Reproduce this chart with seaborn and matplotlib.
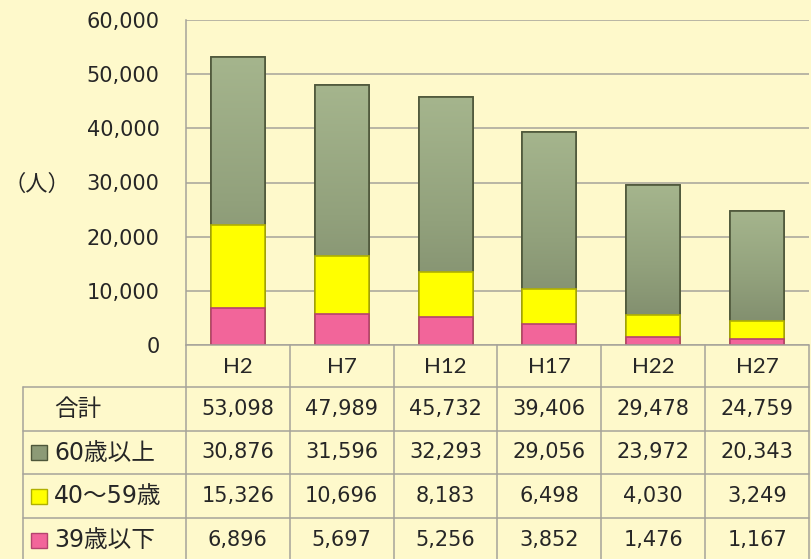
import numpy as np
import pandas as pd
import matplotlib
matplotlib.use("Agg")
import matplotlib.pyplot as plt
from matplotlib.colors import LinearSegmentedColormap
import seaborn as sns

# data
years = ["H2", "H7", "H12", "H17", "H22", "H27"]
total = [53098, 47989, 45732, 39406, 29478, 24759]
age60 = [30876, 31596, 32293, 29056, 23972, 20343]
age40 = [15326, 10696, 8183, 6498, 4030, 3249]
age39 = [6896, 5697, 5256, 3852, 1476, 1167]

series_names = ["60歳以上", "40～59歳", "39歳以下"]
face = ["#8C9A76", "#FFFF00", "#F2659A"]
edge = ["#4E573A", "#B0B000", "#B4436F"]

bg = "#FEF9CB"
grid = "#A6A39A"

sns.set_theme(style="white")
plt.rcParams["font.family"] = ["DejaVu Sans", "Noto Sans CJK JP"]

df = pd.DataFrame({"year": years, "a60": age60, "a40": age40, "a39": age39})
df["top"] = df["a60"] + df["a40"] + df["a39"]
df["mid"] = df["a40"] + df["a39"]

W, H = 812, 559
fig = plt.figure(figsize=(W / 100, H / 100), dpi=100, facecolor=bg)

L, R, T, B = 186, 809, 20, 345
ax = fig.add_axes([L / W, 1 - B / H, (R - L) / W, (B - T) / H])
ax.set_facecolor(bg)

zs = [3, 4, 5]
for col, fc, ec, z in zip(["top", "mid", "a39"], face, edge, zs):
    sns.barplot(data=df, x="year", y=col, color=fc, saturation=1, width=0.52,
                edgecolor=ec, linewidth=1.2, ax=ax, zorder=z)

# vertical shading on the green segments
green_cmap = LinearSegmentedColormap.from_list("g", ["#7A8668", "#92A17C", "#A5B58D"])
grad = np.linspace(0, 1, 256).reshape(-1, 1)
for p in list(ax.patches)[:len(years)]:
    x0, y0 = p.get_x(), p.get_y()
    w, h = p.get_width(), p.get_height()
    im = ax.imshow(grad, cmap=green_cmap, aspect="auto", origin="lower",
                   extent=[x0, x0 + w, y0, y0 + h], zorder=3.05)
    im.set_clip_path(p)
    ax.add_patch(plt.Rectangle((x0, y0), w, h, fill=False, edgecolor=edge[0],
                               linewidth=1.2, zorder=3.1))
ax.set_xlim(-0.5, len(years) - 0.5)
ax.set_ylim(0, 60000)

ax.set_yticks(np.arange(0, 60001, 10000))
ax.set_yticklabels([f"{v:,}" for v in range(0, 60001, 10000)], fontsize=15)
ax.tick_params(axis="y", length=0, pad=19)
ax.set_xticks([])
ax.set_xlabel("")
ax.set_ylabel("")
ax.grid(axis="y", color=grid, linewidth=1.1, zorder=0)
for s in ["top", "right", "bottom"]:
    ax.spines[s].set_visible(False)
ax.spines["left"].set_color(grid)
ax.spines["left"].set_linewidth(1.1)

fig.text(37 / W, 1 - 184 / H, "（人）", fontsize=16, ha="center", va="center")

# data table below the plot, drawn in pixel coordinates
tb = fig.add_axes([0, 0, 1, 1], facecolor="none")
tb.set_xlim(0, W)
tb.set_ylim(H, 0)
tb.axis("off")

colw = (R - L) / len(years)
xs = [L + i * colw for i in range(len(years) + 1)]
rows_y = [345, 387, 431, 474, 518, 562]
lkw = dict(color=grid, linewidth=1.1)

tb.plot([L, R], [rows_y[0], rows_y[0]], **lkw)
for y in rows_y[1:]:
    tb.plot([23, R], [y, y], **lkw)
for x in xs:
    tb.plot([x, x], [rows_y[0], H], **lkw)
tb.plot([23, 23], [rows_y[1], H], **lkw)

fs = 15
for i, yr in enumerate(years):
    cx = L + (i + 0.5) * colw
    tb.text(cx, (rows_y[0] + rows_y[1]) / 2 + 1, yr, ha="center", va="center",
            fontsize=16, family="Lato")

table_rows = [("合計", total, None), (series_names[0], age60, 0),
              (series_names[1], age40, 1), (series_names[2], age39, 2)]
for r, (name, vals, ci) in enumerate(table_rows):
    cy = (rows_y[r + 1] + rows_y[r + 2]) / 2
    if ci is None:
        tb.text(54, cy, name, ha="left", va="center", fontsize=17)
    else:
        tb.add_patch(plt.Rectangle((31, cy - 7.5), 16, 15, facecolor=face[ci],
                                   edgecolor=edge[ci], linewidth=1))
        tb.text(54, cy, name, ha="left", va="center", fontsize=17)
    for i, v in enumerate(vals):
        cx = L + (i + 0.5) * colw
        tb.text(cx, cy, f"{v:,}", ha="center", va="center", fontsize=fs)

fig.savefig("out.png", dpi=100, facecolor=bg)
